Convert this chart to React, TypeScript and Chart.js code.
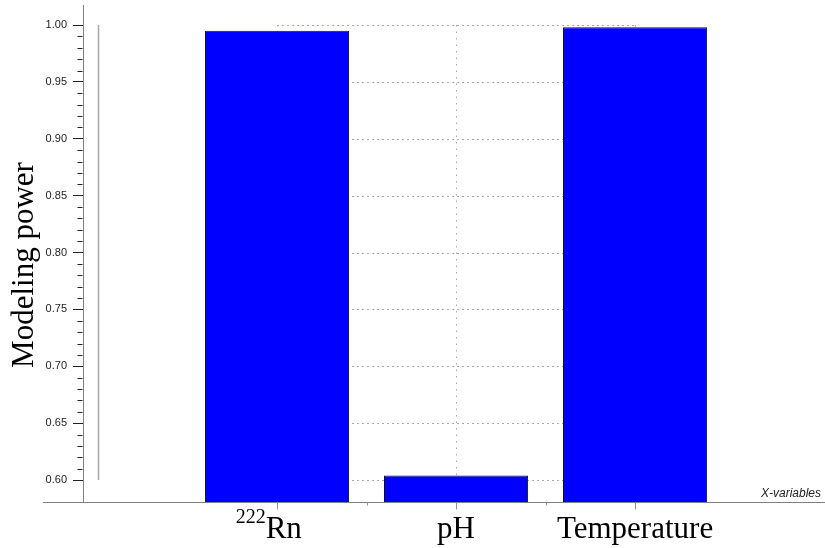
import React, { useEffect, useRef } from 'react';
import { Chart, registerables } from 'chart.js';

Chart.register(...registerables);

// Variables on the x axis (mass number drawn as a superscript prefix)
const categories = ['Rn', 'pH', 'Temperature'];
const massNumbers = ['222', '', ''];
const categoryPositions = [1, 2, 3];
const categoryEdges = [1.5, 2.5];

// Modeling power of each variable
const modelingPower = [0.995, 0.604, 0.998];

// Labelled ticks on the y axis
const yTickValues = [0.6, 0.65, 0.7, 0.75, 0.8, 0.85, 0.9, 0.95, 1.0];
const yTickLabels = ['0.60', '0.65', '0.70', '0.75', '0.80', '0.85', '0.90', '0.95', '1.00'];

const Y_MIN = 0.5807;
const Y_MAX = 1.0176;
const X_MIN = -0.0838;
const X_MAX = 4.061;

const SERIF = '"Liberation Serif", "Times New Roman", serif';
const SANS = '"Liberation Sans", Arial, sans-serif';

const decorPlugin = {
  id: 'decor',
  beforeDatasetsDraw(chart: any) {
    const { ctx, scales } = chart;
    const x = scales.x;
    const y = scales.y;
    const yTop = y.getPixelForValue(yTickValues[yTickValues.length - 1]);
    const yBot = y.getPixelForValue(yTickValues[0]);
    ctx.save();
    ctx.lineWidth = 1;
    ctx.strokeStyle = '#a6a6a6';
    // horizontal dotted grid across the variable range
    ctx.setLineDash([2, 3]);
    const gx0 = x.getPixelForValue(categoryPositions[0]);
    const gx1 = x.getPixelForValue(categoryPositions[categoryPositions.length - 1]);
    for (const v of yTickValues) {
      const py = Math.round(y.getPixelForValue(v)) + 0.5;
      ctx.beginPath();
      ctx.moveTo(gx0, py);
      ctx.lineTo(gx1, py);
      ctx.stroke();
    }
    // vertical dotted grid at each variable
    ctx.setLineDash([1.5, 5]);
    for (const p of categoryPositions) {
      const px = Math.round(x.getPixelForValue(p)) + 0.5;
      ctx.beginPath();
      ctx.moveTo(px, yTop);
      ctx.lineTo(px, yBot);
      ctx.stroke();
    }
    // reference line at x = 0
    ctx.setLineDash([]);
    ctx.strokeStyle = '#a8a8a8';
    ctx.lineWidth = 1.5;
    const zx = Math.round(x.getPixelForValue(0)) + 0.5;
    ctx.beginPath();
    ctx.moveTo(zx, yTop);
    ctx.lineTo(zx, yBot);
    ctx.stroke();
    ctx.restore();
  },
  afterDraw(chart: any) {
    const { ctx, scales, chartArea, width } = chart;
    const x = scales.x;
    const y = scales.y;
    ctx.save();

    // x axis line
    const ay = Math.round(chartArea.bottom) + 0.5;
    ctx.strokeStyle = '#808080';
    ctx.lineWidth = 1;
    ctx.beginPath();
    ctx.moveTo(chartArea.left - 40, ay);
    ctx.lineTo(width, ay);
    ctx.stroke();

    // x tick marks
    ctx.strokeStyle = '#909090';
    for (const p of categoryPositions) {
      const px = Math.round(x.getPixelForValue(p)) + 0.5;
      ctx.beginPath();
      ctx.moveTo(px, ay);
      ctx.lineTo(px, ay + 7);
      ctx.stroke();
    }
    for (const p of categoryEdges) {
      const px = Math.round(x.getPixelForValue(p)) + 0.5;
      ctx.beginPath();
      ctx.moveTo(px, ay);
      ctx.lineTo(px, ay + 3);
      ctx.stroke();
    }

    // minor y ticks between labelled ticks
    ctx.strokeStyle = '#222';
    const axisX = Math.round(chartArea.left) - 0.5;
    for (let i = 0; i < yTickValues.length - 1; i++) {
      const step = (yTickValues[i + 1] - yTickValues[i]) / 5;
      for (let k = 1; k < 5; k++) {
        const py = Math.round(y.getPixelForValue(yTickValues[i] + step * k)) + 0.5;
        ctx.beginPath();
        ctx.moveTo(axisX - 5, py);
        ctx.lineTo(axisX, py);
        ctx.stroke();
      }
    }

    // variable names
    ctx.fillStyle = '#000';
    ctx.textBaseline = 'alphabetic';
    ctx.textAlign = 'left';
    const bigFont = `31px ${SERIF}`;
    const supFont = `20px ${SERIF}`;
    categories.forEach((name, i) => {
      const cx = x.getPixelForValue(categoryPositions[i]);
      const sup = massNumbers[i];
      ctx.font = bigFont;
      const full = ctx.measureText(sup + name).width;
      let sx = cx - full / 2;
      if (sup) {
        ctx.font = supFont;
        ctx.fillText(sup, sx, 523);
        sx += ctx.measureText(sup).width;
        ctx.font = bigFont;
      }
      ctx.fillText(name, sx, 538);
    });

    // axis caption at the end of the x axis
    ctx.font = `italic 12px ${SANS}`;
    ctx.fillStyle = '#222';
    ctx.textAlign = 'right';
    ctx.fillText('X-variables', 821, 497);

    // y axis title
    ctx.translate(33, 265);
    ctx.rotate(-Math.PI / 2);
    ctx.font = `31px ${SERIF}`;
    ctx.fillStyle = '#000';
    ctx.textAlign = 'center';
    ctx.fillText('Modeling power', 0, 0);

    ctx.restore();
  },
};

export default function App() {
  const canvasRef = useRef<HTMLCanvasElement | null>(null);

  useEffect(() => {
    document.body.style.margin = '0';
    const canvas = canvasRef.current;
    if (!canvas) return;
    const chart = new Chart(canvas, {
      type: 'bar',
      data: {
        datasets: [
          {
            data: modelingPower.map((v, i) => ({ x: categoryPositions[i], y: v })),
            backgroundColor: '#0000ff',
            borderColor: '#111',
            borderWidth: 1,
            categoryPercentage: 1,
            barPercentage: 0.805,
          },
        ],
      },
      options: {
        animation: false,
        responsive: false,
        devicePixelRatio: 1,
        layout: { padding: { top: 5, left: 0, right: 0, bottom: 0 } },
        plugins: {
          legend: { display: false },
          tooltip: { enabled: false },
          title: { display: false },
        },
        scales: {
          x: {
            type: 'linear',
            min: X_MIN,
            max: X_MAX,
            offset: false,
            afterBuildTicks: (scale: any) => {
              scale.ticks = categoryPositions.map((v) => ({ value: v }));
            },
            grid: { display: false },
            border: { display: false },
            ticks: { display: false },
            afterFit: (scale: any) => {
              scale.height = 46;
              scale.paddingLeft = 0;
              scale.paddingRight = 0;
            },
          },
          y: {
            type: 'linear',
            min: Y_MIN,
            max: Y_MAX,
            afterBuildTicks: (scale: any) => {
              scale.ticks = yTickValues.map((v) => ({ value: v }));
            },
            afterFit: (scale: any) => {
              scale.width = 83;
              scale.paddingTop = 0;
              scale.paddingBottom = 0;
            },
            grid: {
              display: true,
              drawOnChartArea: false,
              drawTicks: true,
              tickLength: 10,
              color: '#222',
            },
            border: { display: true, color: '#808080', width: 1 },
            ticks: {
              padding: 6,
              color: '#222',
              font: { family: SANS, size: 11 },
              callback: (value: any) => {
                const idx = yTickValues.findIndex((v) => Math.abs(v - Number(value)) < 1e-6);
                return idx >= 0 ? yTickLabels[idx] : '';
              },
            },
          },
        },
      },
      plugins: [decorPlugin],
    });
    return () => chart.destroy();
  }, []);

  return (
    <div style={{ position: 'fixed', left: 0, top: 0, width: 825, height: 548 }}>
      <canvas ref={canvasRef} width={825} height={548} style={{ width: 825, height: 548 }} />
    </div>
  );
}
